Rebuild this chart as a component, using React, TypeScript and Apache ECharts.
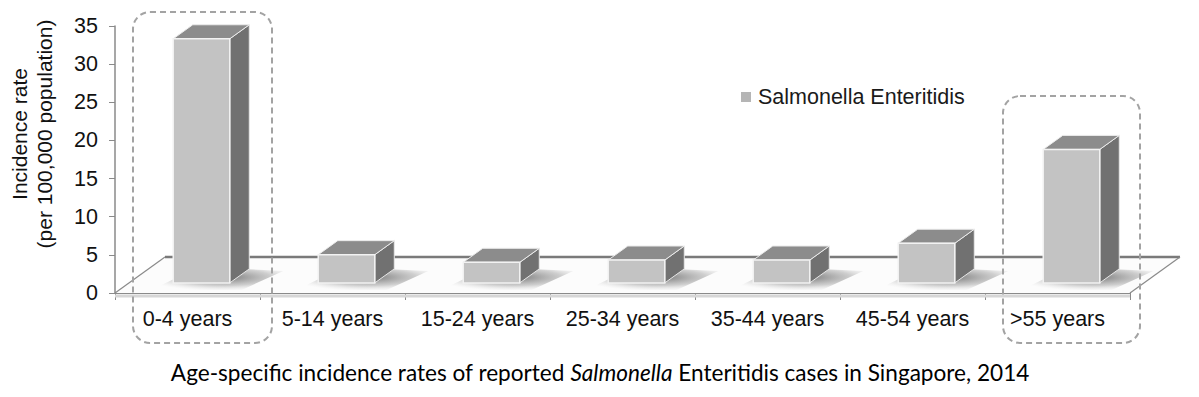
import React, { useEffect, useRef } from 'react';
import * as echarts from 'echarts';

const categories = ['0-4 years', '5-14 years', '15-24 years', '25-34 years', '35-44 years', '45-54 years', '>55 years'];
const rates = [32.0, 3.7, 2.7, 3.0, 3.0, 5.2, 17.5];
const seriesName = 'Salmonella Enteritidis';
const yMin = 0;
const yMax = 35;
const yInterval = 5;
const yTitleLines = ['Incidence rate', '(per 100,000 population)'];
const captionBefore = 'Age-specific incidence rates of reported ';
const captionItalic = 'Salmonella';
const captionAfter = ' Enteritidis cases in Singapore, 2014';

const FONT = 'Liberation Sans, Arial, sans-serif';
const CAPTION_FONT = 'Lato, Open Sans, sans-serif';
const DX = 50;
const DY = -36;
const F1 = 0.28;
const F2 = 0.67;

function renderFloor(params: any, api: any) {
  const band = api.size([1, 0])[0];
  const a = api.coord([0, 0]);
  const b = api.coord([categories.length - 1, 0]);
  const xl = a[0] - band / 2;
  const xr = b[0] + band / 2;
  const y = a[1];
  return {
    type: 'group',
    children: [
      {
        type: 'polygon',
        shape: { points: [[xl, y], [xl + DX, y + DY], [xr + DX, y + DY], [xr, y]] },
        style: { fill: '#fcfcfc', stroke: 'none' },
      },
      {
        type: 'line',
        shape: { x1: xl + DX, y1: y + DY, x2: xr + DX, y2: y + DY },
        style: { stroke: '#7a7a7a', lineWidth: 2.5 },
      },
      {
        type: 'line',
        shape: { x1: xl, y1: y, x2: xl + DX, y2: y + DY },
        style: { stroke: '#8a8a8a', lineWidth: 1.2 },
      },
      {
        type: 'line',
        shape: { x1: xr, y1: y, x2: xr + DX, y2: y + DY },
        style: { stroke: '#8a8a8a', lineWidth: 1.2 },
      },
      {
        type: 'line',
        shape: { x1: xl, y1: y + 3, x2: xr, y2: y + 3 },
        style: { stroke: '#d6d6d6', lineWidth: 3 },
      },
    ],
  };
}

function renderBar(params: any, api: any) {
  const i = api.value(0);
  const v = api.value(1);
  const base = api.coord([i, 0]);
  const top = api.coord([i, v]);
  const band = api.size([1, 0])[0];
  const w = band * 0.39;
  const h = base[1] - top[1];
  const x0 = base[0] - w / 2 + F1 * DX;
  const x1 = x0 + w;
  const yb = base[1] + F1 * DY;
  const yt = yb - h;
  const ddx = (F2 - F1) * DX;
  const ddy = (F2 - F1) * DY;
  return {
    type: 'group',
    children: [
      {
        type: 'polygon',
        shape: {
          points: [
            [x0 - 22, yb + 7],
            [x1 + 12, yb + 7],
            [x1 + ddx + 34, yb + ddy + 2],
            [x0 + ddx + 6, yb + ddy - 2],
          ],
        },
        style: {
          fill: {
            type: 'radial',
            x: 0.55,
            y: 0.45,
            r: 0.6,
            colorStops: [
              { offset: 0, color: 'rgba(70,70,70,0.75)' },
              { offset: 0.6, color: 'rgba(120,120,120,0.35)' },
              { offset: 1, color: 'rgba(200,200,200,0)' },
            ],
          },
        },
      },
      {
        type: 'polygon',
        shape: { points: [[x1, yt], [x1, yb], [x1 + ddx, yb + ddy], [x1 + ddx, yt + ddy]] },
        style: { fill: '#717171', stroke: '#e8e8e8', lineWidth: 1 },
      },
      {
        type: 'polygon',
        shape: { points: [[x0, yt], [x1, yt], [x1 + ddx, yt + ddy], [x0 + ddx, yt + ddy]] },
        style: { fill: '#8c8c8c', stroke: '#ececec', lineWidth: 1 },
      },
      {
        type: 'rect',
        shape: { x: x0, y: yt, width: w, height: h },
        style: { fill: '#c3c3c3', stroke: '#f2f2f2', lineWidth: 1.5 },
      },
    ],
  };
}

export default function App() {
  const ref = useRef<HTMLDivElement>(null);
  useEffect(() => {
    if (!ref.current) return;
    const chart = echarts.init(ref.current, undefined, { renderer: 'svg' });
    chart.setOption({
      animation: false,
      backgroundColor: '#ffffff',
      grid: { left: 115, right: 69, top: 26, bottom: 104, containLabel: false },
      legend: {
        data: [seriesName],
        left: 741,
        top: 86,
        padding: 0,
        icon: 'rect',
        itemWidth: 10,
        itemHeight: 10,
        itemGap: 6,
        textStyle: { fontSize: 21.5, fontFamily: FONT, color: '#1a1a1a', padding: [0, 0, 0, 2] },
      },
      xAxis: {
        type: 'category',
        data: categories,
        boundaryGap: true,
        axisLine: { show: true, lineStyle: { color: '#8a8a8a', width: 1 } },
        axisTick: { show: true, alignWithLabel: false, interval: 0, length: 7, lineStyle: { color: '#8a8a8a' } },
        axisLabel: { interval: 0, hideOverlap: false, fontSize: 21.5, fontFamily: FONT, color: '#111', margin: 15 },
        splitLine: { show: false },
      },
      yAxis: {
        type: 'value',
        min: yMin,
        max: yMax,
        interval: yInterval,
        axisLine: { show: true, lineStyle: { color: '#8a8a8a', width: 1.5 } },
        axisTick: { show: true, length: 6, lineStyle: { color: '#8a8a8a' } },
        axisLabel: { fontSize: 21.5, fontFamily: FONT, color: '#111', margin: 17 },
        splitLine: { show: false },
      },
      series: [
        {
          name: 'floor',
          type: 'custom',
          renderItem: renderFloor,
          data: [[0, 0]],
          encode: { x: 0, y: 1 },
          z: 1,
          silent: true,
        },
        {
          name: seriesName,
          type: 'custom',
          renderItem: renderBar,
          data: rates.map((v, i) => [i, v]),
          encode: { x: 0, y: 1 },
          itemStyle: { color: '#b5b5b5' },
          z: 3,
        },
      ],
      graphic: [
        {
          type: 'text',
          x: 32,
          y: 134,
          rotation: Math.PI / 2,
          style: {
            text: yTitleLines.join('\n'),
            font: '21px ' + FONT,
            fill: '#111',
            align: 'center',
            verticalAlign: 'middle',
            lineHeight: 25,
          },
        },
        {
          type: 'rect',
          shape: { x: 133, y: 12, width: 139, height: 331, r: 17 },
          style: { fill: 'none', stroke: '#a3a3a3', lineWidth: 2, lineDash: [6, 4] },
          z: 10,
        },
        {
          type: 'rect',
          shape: { x: 1003, y: 96, width: 137, height: 247, r: 17 },
          style: { fill: 'none', stroke: '#a3a3a3', lineWidth: 2, lineDash: [6, 4] },
          z: 10,
        },
        {
          type: 'text',
          x: 600,
          y: 372,
          style: {
            text: '{a|' + captionBefore + '}{i|' + captionItalic + '}{a|' + captionAfter + '}',
            align: 'center',
            verticalAlign: 'middle',
            rich: {
              a: { fontSize: 22.6, fontFamily: CAPTION_FONT, color: '#000' },
              i: { fontSize: 22.6, fontFamily: CAPTION_FONT, fontStyle: 'italic', color: '#000' },
            },
          },
        },
      ],
    });
    return () => chart.dispose();
  }, []);
  return <div ref={ref} style={{ width: 1199, height: 397, position: 'absolute', left: 0, top: 0 }} />;
}
